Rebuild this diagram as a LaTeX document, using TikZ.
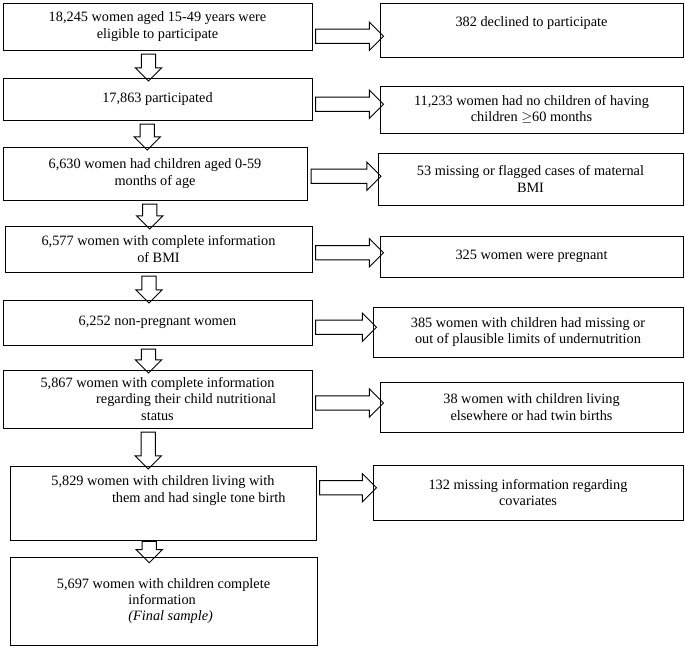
\documentclass[tikz,border=0pt]{standalone}
\usepackage{fontspec}
\setmainfont{Liberation Serif}
\usetikzlibrary{shapes.arrows,calc}
\tikzset{
  stagebox/.style={draw, thick, rectangle, inner sep=2pt, align=center, font=\fontsize{12.2}{14}\selectfont},
  rarrow/.style={draw, thick, single arrow, inner sep=0.2cm, minimum width=0.84cm, single arrow head extend=0.21cm, single arrow head indent=0pt},
  darrow/.style={draw, thick, single arrow, shape border rotate=270, inner sep=0.2cm, minimum width=0.78cm, single arrow head extend=0.18cm, single arrow head indent=0pt}
}
\begin{document}
\begin{tikzpicture}[x=0.03cm,y=-0.03cm]
\useasboundingbox (0,0) rectangle (685,646);
% left column
\node (elig)[stagebox, minimum width=309*0.03cm, minimum height=47*0.03cm] at (157.5,26.5) {18,245 women aged 15-49 years were\\eligible to participate};
\node (part)[stagebox, minimum width=309*0.03cm, minimum height=42*0.03cm] at (157.5,99) {17,863 participated};
\node (child)[stagebox, minimum width=304*0.03cm, minimum height=53*0.03cm] at (155,173.5) {6,630 women had children aged 0-59\\months of age};
\node (bmi)[stagebox, minimum width=307*0.03cm, minimum height=46*0.03cm] at (158.5,249) {6,577 women with complete information\\of BMI};
\node (nonpreg)[stagebox, minimum width=309*0.03cm, minimum height=45*0.03cm] at (157.5,322.5) {6,252 non-pregnant women};
\node (nutr)[stagebox, minimum width=309*0.03cm, minimum height=58*0.03cm] at (157.5,399) {5,867 women with complete information\\\hspace*{4em}regarding their child nutritional\\status};
\node (single)[stagebox, minimum width=306*0.03cm, minimum height=74*0.03cm, text depth=24pt] at (163,503) {5,829 women with children living with\\\hspace*{5em}them and had single tone birth};
\node (final)[stagebox, minimum width=307*0.03cm, minimum height=88*0.03cm, align=left] at (163.5,601) {5,697 women with children complete\\\hspace*{5em}information\\\hspace*{5em}\textit{(Final sample)}};
% right column
\node (declined)[stagebox, minimum width=303*0.03cm, minimum height=54*0.03cm, text depth=14pt] at (531.5,30) {382 declined to participate};
\node (nochild)[stagebox, minimum width=303*0.03cm, minimum height=47*0.03cm] at (531.5,109.5) {11,233 women had no children of having\\children $\geq$60 months};
\node (flag)[stagebox, minimum width=305*0.03cm, minimum height=52*0.03cm] at (530.5,179) {53 missing or flagged cases of maternal\\BMI};
\node (preg)[stagebox, minimum width=303*0.03cm, minimum height=41*0.03cm] at (531.5,256.5) {325 women were pregnant};
\node (undern)[stagebox, minimum width=310*0.03cm, minimum height=50*0.03cm] at (528,332) {385 women with children had missing or\\out of plausible limits of undernutrition};
\node (twin)[stagebox, minimum width=303*0.03cm, minimum height=50*0.03cm] at (531.5,407) {38 women with children living\\elsewhere or had twin births};
\node (covar)[stagebox, minimum width=310*0.03cm, minimum height=55*0.03cm] at (528,492.5) {132 missing information regarding\\covariates};
% side arrows
\node (a1)[rarrow, minimum height=68*0.03cm] at ($(elig.east)!0.5!(declined.west)+(0,8)$) {};
\node (a2)[rarrow, minimum height=68*0.03cm] at ($(part.east)!0.5!(nochild.west)$) {};
\node (a3)[rarrow, minimum height=70*0.03cm] at ($(child.east)!0.5!(flag.west)$) {};
\node (a4)[rarrow, minimum height=68*0.03cm] at ($(bmi.east)!0.5!(preg.west)$) {};
\node (a5)[rarrow, minimum height=61*0.03cm] at ($(nonpreg.east)!0.5!(undern.west)$) {};
\node (a6)[rarrow, minimum height=68*0.03cm] at ($(nutr.east)!0.5!(twin.west)$) {};
\node (a7)[rarrow, minimum height=57*0.03cm] at ($(single.east)!0.5!(covar.west)+(0,-10)$) {};
% down arrows
\node (d1)[darrow, minimum height=27*0.03cm] at ($(elig.south)!0.5!(part.north)+(-9,0)$) {};
\node (d2)[darrow, minimum height=26*0.03cm] at ($(part.south)!0.5!(child.north)+(-9,0)$) {};
\node (d3)[darrow, minimum height=25*0.03cm] at ($(child.south)!0.5!(bmi.north)+(-7,0)$) {};
\node (d4)[darrow, minimum height=27*0.03cm] at ($(bmi.south)!0.5!(nonpreg.north)+(-9,0)$) {};
\node (d5)[darrow, minimum height=24*0.03cm] at ($(nonpreg.south)!0.5!(nutr.north)+(-9,0)$) {};
\node (d6)[darrow, minimum height=37*0.03cm] at ($(nutr.south)!0.5!(single.north)+(-12,0)$) {};
\node (d7)[darrow, minimum height=16*0.03cm] at ($(single.south)!0.5!(final.north)+(-14,0)$) {};
\end{tikzpicture}
\end{document}
